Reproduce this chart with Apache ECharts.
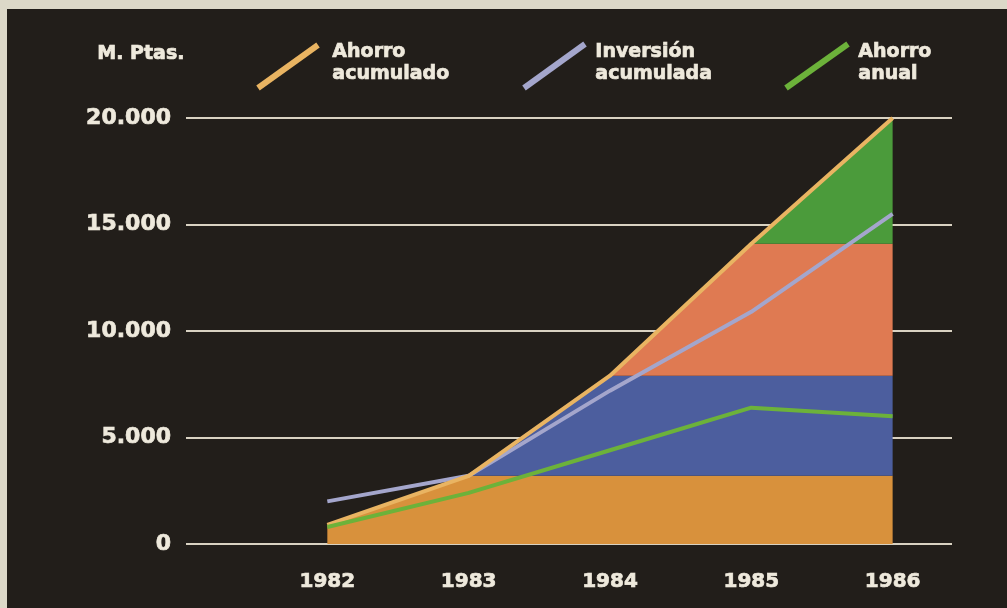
<!DOCTYPE html>
<html>
<head>
<meta charset="utf-8">
<style>
  html, body { margin: 0; padding: 0; background: #dcd8c8; }
  #frame { position: absolute; left: 7px; top: 9px; width: 1000px; height: 599px; background: #221e1a; }
  #chart { position: absolute; left: -7px; top: -9px; width: 1007px; height: 608px; }
</style>
<script src="https://cdn.jsdelivr.net/npm/echarts@6/dist/echarts.min.js"></script>
</head>
<body>
<div id="frame"><div id="chart"></div></div>
<script>
// Millones de pesetas, 1982-1986
const years = [1982, 1983, 1984, 1985, 1986];
const ahorroAcumulado = [900, 3200, 7900, 14100, 20000];
const inversionAcumulada = [2000, 3200, 7200, 10900, 15500];
const ahorroAnual = [800, 2400, 4400, 6400, 6000];
const yTicks = [0, 5000, 10000, 15000, 20000];
const yTickLabels = ['0', '5.000', '10.000', '15.000', '20.000'];

const TEXT = '#eee9dc';
const FONT = 'DejaVu Sans';
const bandColors = ['#d8913c', '#4c5e9e', '#df7a52', '#4b9b3b'];
const lineColors = { acum: '#e9b462', inv: '#a4a6cc', anual: '#6cb23a' };

const pairs = arr => years.map((y, i) => [y, arr[i]]);

// One band per year: the part of the accumulated-savings area added that year
function renderBand(params, api) {
  const i = api.value(0);
  const last = years.length - 1;
  let pts;
  if (i === 0) {
    pts = [[years[0], 0], [years[0], ahorroAcumulado[0]], [years[1], ahorroAcumulado[1]],
           [years[last], ahorroAcumulado[1]], [years[last], 0]];
  } else {
    pts = [[years[i], ahorroAcumulado[i]], [years[i + 1], ahorroAcumulado[i + 1]],
           [years[last], ahorroAcumulado[i + 1]], [years[last], ahorroAcumulado[i]]];
  }
  return {
    type: 'polygon',
    shape: { points: pts.map(p => api.coord(p)) },
    style: { fill: bandColors[i] }
  };
}

const chart = echarts.init(document.getElementById('chart'), null, { renderer: 'canvas' });

const legendItems = [
  { x1: 258, y1: 88, x2: 318, y2: 45, color: lineColors.acum, tx: 332, text: 'Ahorro\nacumulado' },
  { x1: 524, y1: 88, x2: 585, y2: 44, color: lineColors.inv, tx: 595, text: 'Inversión\nacumulada' },
  { x1: 786, y1: 88, x2: 848, y2: 44, color: lineColors.anual, tx: 858, text: 'Ahorro\nanual' }
];

const heavy = { fill: TEXT, stroke: TEXT, lineWidth: 0.7 };

const graphic = [
  { type: 'text', left: 97, top: 44,
    style: Object.assign({ text: 'M. Ptas.', font: 'bold 19px "' + FONT + '"' }, heavy) }
];
legendItems.forEach(it => {
  graphic.push({ type: 'line', shape: { x1: it.x1, y1: it.y1, x2: it.x2, y2: it.y2 },
                 style: { stroke: it.color, lineWidth: 6 } });
  graphic.push({ type: 'text', left: it.tx, top: 41,
                 style: Object.assign({ text: it.text, font: 'bold 19px "' + FONT + '"', lineHeight: 22 }, heavy) });
});

chart.setOption({
  backgroundColor: 'transparent',
  animation: false,
  grid: { left: 186, right: 55, top: 118, bottom: 64 },
  xAxis: {
    type: 'value',
    min: 1981, max: 1986.42, interval: 1,
    axisLine: { show: false }, axisTick: { show: false }, splitLine: { show: false },
    axisLabel: {
      color: TEXT, fontFamily: FONT, fontWeight: 'bold', fontSize: 20, margin: 28,
      textBorderColor: TEXT, textBorderWidth: 0.7,
      formatter: v => (years.indexOf(v) >= 0 ? String(v) : ''),
      showMaxLabel: false
    }
  },
  yAxis: {
    type: 'value',
    min: yTicks[0], max: yTicks[yTicks.length - 1], interval: 5000,
    axisLine: { show: false }, axisTick: { show: false },
    splitLine: { lineStyle: { color: '#d9d2c2', width: 2 } },
    axisLabel: {
      color: TEXT, fontFamily: FONT, fontWeight: 'bold', fontSize: 22, margin: 15,
      textBorderColor: TEXT, textBorderWidth: 0.7,
      formatter: v => yTickLabels[yTicks.indexOf(v)]
    }
  },
  graphic: graphic,
  series: [
    {
      type: 'custom',
      renderItem: renderBand,
      data: [[0], [1], [2], [3]],
      encode: { x: -1, y: -1 },
      z: 2
    },
    {
      name: 'Inversión acumulada', type: 'line', data: pairs(inversionAcumulada),
      symbol: 'none', lineStyle: { color: lineColors.inv, width: 4 }, z: 3
    },
    {
      name: 'Ahorro acumulado', type: 'line', data: pairs(ahorroAcumulado),
      symbol: 'none', lineStyle: { color: lineColors.acum, width: 4 }, z: 4
    },
    {
      name: 'Ahorro anual', type: 'line', data: pairs(ahorroAnual),
      symbol: 'none', lineStyle: { color: lineColors.anual, width: 4 }, z: 5
    }
  ]
});
</script>
</body>
</html>
